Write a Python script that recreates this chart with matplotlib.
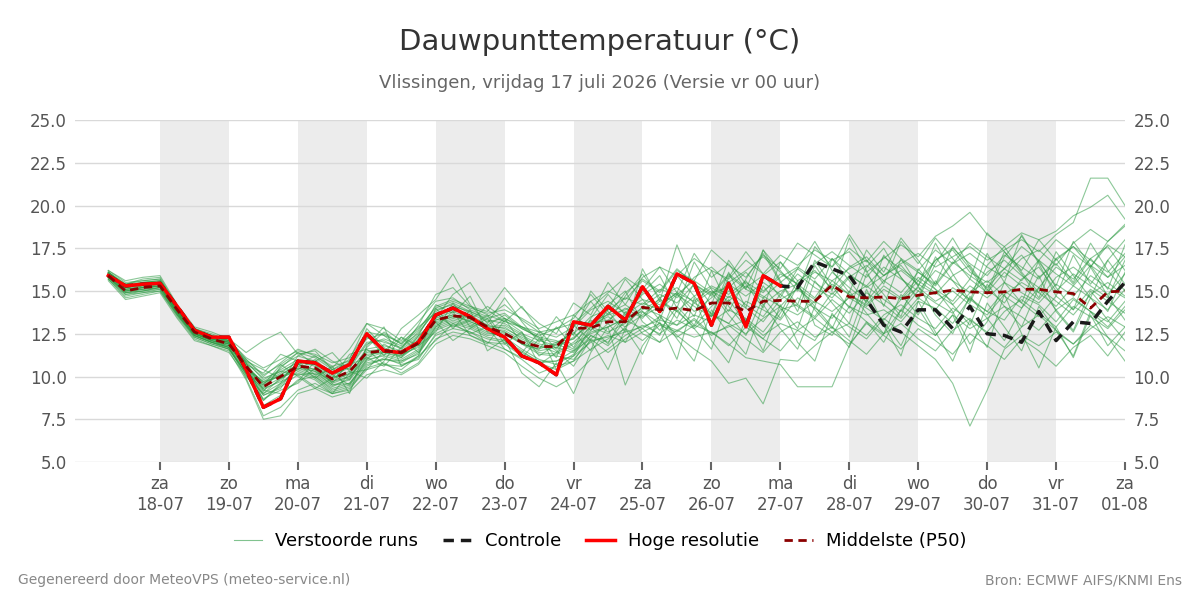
import matplotlib.pyplot as plt

# time in days since 17-07 00h, 6-hourly steps from 17-07 06h to 01-08 00h
times = [0.25 + 0.25 * i for i in range(60)]

tick_days = list(range(1, 16))
tick_labels = ["za\n18-07", "zo\n19-07", "ma\n20-07", "di\n21-07", "wo\n22-07",
               "do\n23-07", "vr\n24-07", "za\n25-07", "zo\n26-07", "ma\n27-07",
               "di\n28-07", "wo\n29-07", "do\n30-07", "vr\n31-07", "za\n01-08"]

# high resolution run (ends 27-07 00h)
hres = [15.9, 15.3, 15.4, 15.45, 14.1, 12.7, 12.3, 12.3, 10.4, 8.2,
        8.7, 10.9, 10.8, 10.2, 10.7, 12.5, 11.5, 11.4, 12.0, 13.6,
        14.0, 13.5, 12.8, 12.3, 11.2, 10.8, 10.1, 13.2, 13.0, 14.1,
        13.3, 15.25, 13.8, 16.0, 15.45, 13.0, 15.45, 12.9, 15.9, 15.3]

control = hres + [15.2, 16.7, 16.3, 15.9, 14.5, 13.0, 12.6, 13.9, 13.9, 12.8,
                  14.1, 12.5, 12.4, 12.0, 13.8, 12.1, 13.2, 13.1, 14.4, 15.5]

p50 = [15.9, 15.0, 15.2, 15.3, 13.9, 12.6, 12.2, 11.9, 10.6, 9.4,
       10.0, 10.6, 10.5, 9.85, 10.3, 11.4, 11.5, 11.4, 11.95, 13.3,
       13.55, 13.45, 12.9, 12.5, 12.0, 11.75, 11.75, 12.8, 12.85, 13.2,
       13.2, 14.05, 13.9, 14.0, 13.85, 14.3, 14.3, 13.8, 14.4, 14.45,
       14.4, 14.4, 15.35, 14.65, 14.6, 14.65, 14.55, 14.75, 14.9, 15.05,
       14.95, 14.9, 14.95, 15.1, 15.1, 14.95, 14.85, 14.0, 14.95, 15.0]

members = [
    [16.1,15.3,15.5,15.6,14.0,12.8,12.4,12.0,10.9,9.8,10.4,11.0,10.8,10.1,10.5,11.9,12.2,11.8,12.5,13.9,14.2,13.7,13.2,13.4,12.9,12.2,12.0,12.5,13.5,13.9,14.6,14.2,15.1,14.8,15.6,14.9,15.2,16.1,15.0,15.8,16.4,15.7,16.9,16.0,15.2,15.9,16.8,16.1,15.3,16.6,17.2,16.4,15.8,16.9,17.4,16.5,17.8,18.6,17.9,18.8],
    [15.8,14.9,15.0,15.2,13.7,12.4,12.0,11.6,10.2,8.9,9.4,10.1,10.2,9.5,9.6,10.8,11.0,10.9,11.3,12.8,13.2,12.9,12.4,12.5,11.9,11.3,11.2,11.0,12.1,12.3,12.6,12.9,13.3,13.0,13.6,13.2,13.9,13.4,12.6,13.9,14.2,13.5,14.9,14.1,13.6,13.9,13.2,14.4,14.0,13.1,14.6,13.8,13.3,14.7,14.2,13.2,14.5,13.8,12.9,14.1],
    [16.0,15.1,15.3,15.4,13.8,12.5,12.1,11.7,9.9,7.7,8.2,9.2,9.6,9.0,9.2,10.6,11.1,10.7,11.0,12.5,13.0,12.6,12.0,11.6,11.0,10.2,10.6,10.9,12.4,11.8,12.9,13.6,14.4,13.8,14.7,15.3,14.8,15.6,14.2,15.0,15.4,14.6,16.1,15.2,14.4,15.6,16.2,15.4,14.8,15.9,16.5,15.1,14.3,15.7,16.4,15.0,16.0,15.3,14.6,16.8],
    [16.2,15.6,15.8,15.9,14.2,12.9,12.6,12.2,11.4,12.1,12.6,11.3,11.5,10.4,11.0,13.1,12.8,12.1,13.2,14.4,14.6,13.9,13.5,14.2,13.3,12.6,12.8,13.4,14.8,13.6,14.9,15.7,15.0,16.3,15.4,14.8,16.0,15.2,15.9,16.7,15.6,16.2,15.1,16.4,17.0,15.9,16.5,15.3,16.8,17.4,16.1,15.5,16.3,17.1,15.8,16.6,15.4,16.9,17.6,16.2],
    [15.7,14.6,14.8,15.0,13.5,12.2,11.8,11.4,10.0,9.0,9.6,10.3,9.9,9.1,9.4,10.5,10.8,10.2,10.8,12.2,12.6,12.4,12.0,11.9,11.2,10.8,10.4,10.9,11.6,12.2,12.8,12.1,13.0,12.6,13.4,12.5,12.9,13.3,12.4,13.1,12.7,12.1,13.6,12.9,12.2,13.4,12.6,11.8,11.0,9.6,7.1,9.2,11.6,12.4,11.8,12.6,11.9,12.8,13.5,12.9],
    [15.9,15.2,15.4,15.5,13.9,12.7,12.3,12.1,10.7,9.6,10.2,10.9,10.6,9.9,10.3,11.6,11.8,11.5,12.2,13.6,14.1,13.8,13.3,13.1,12.5,12.1,11.8,12.2,13.2,13.6,13.9,14.5,14.2,14.9,14.4,15.2,14.6,15.5,14.9,16.0,15.4,16.1,15.6,16.3,16.8,15.9,16.6,17.2,16.4,17.0,17.6,16.8,17.4,18.0,17.3,18.3,19.0,21.6,21.6,20.0],
    [16.0,15.4,15.6,15.7,14.1,12.8,12.5,12.1,10.8,9.2,9.8,10.7,11.2,10.6,10.9,12.2,12.5,11.9,12.7,14.1,14.5,14.1,13.6,13.2,12.9,12.4,12.8,13.1,14.0,14.9,15.8,15.1,16.4,15.9,16.9,16.2,15.7,16.8,16.0,17.1,16.5,17.4,16.8,17.3,16.1,16.9,17.7,17.0,18.2,18.8,19.6,18.3,17.6,18.4,18.0,18.5,19.4,19.9,20.6,19.2],
    [15.8,15.0,15.1,15.2,13.8,12.5,12.1,11.8,10.5,9.4,9.9,10.4,10.0,9.3,9.6,10.9,11.3,11.0,11.6,13.0,13.4,13.1,12.6,12.3,11.6,11.0,10.7,11.3,12.4,12.0,13.3,12.8,13.5,12.4,11.6,10.9,9.6,9.9,8.4,11.0,10.9,11.8,12.6,13.1,12.4,13.6,14.2,13.4,12.8,14.0,13.3,12.6,13.8,14.5,13.7,12.9,14.1,13.5,12.8,13.9],
    [16.1,15.2,15.4,15.5,14.0,12.6,12.2,12.0,10.6,9.5,10.1,10.7,10.4,9.6,10.0,11.1,11.4,11.2,11.8,13.2,13.5,13.2,12.8,12.7,12.1,11.5,11.7,11.4,12.6,12.9,13.4,13.8,13.1,12.7,12.3,12.6,11.9,11.1,10.9,10.7,9.4,9.4,9.4,11.8,13.2,12.5,13.9,13.0,12.4,13.6,12.8,13.4,14.1,13.5,12.7,13.9,14.6,13.8,13.2,14.4],
    [15.6,14.5,14.7,14.9,13.4,12.1,11.8,11.5,9.8,7.5,7.7,9.0,9.3,8.8,9.1,10.1,10.4,10.1,10.7,11.9,12.4,12.2,11.8,11.4,10.6,9.9,9.4,10.0,11.0,11.6,12.4,13.0,12.5,13.3,12.8,13.6,13.1,12.5,13.4,14.1,13.6,14.4,13.8,14.6,14.0,13.3,14.5,15.2,14.4,15.0,14.2,13.6,14.8,15.5,14.9,14.1,15.3,14.6,13.9,15.1],
    [16.0,15.3,15.4,15.5,13.9,12.6,12.3,12.1,10.4,9.1,10.6,11.2,10.9,10.2,10.6,12.0,12.1,11.6,12.3,13.5,13.9,13.6,13.0,13.6,12.8,12.3,12.1,11.6,13.0,13.5,12.9,14.1,14.8,14.3,15.4,14.7,15.9,15.1,14.6,15.5,16.3,15.5,14.8,15.9,15.3,16.4,15.7,15.0,16.2,15.6,14.9,16.1,16.8,15.9,15.2,16.4,15.7,16.9,15.8,16.5],
    [15.9,15.1,15.2,15.4,13.8,12.5,12.2,11.9,10.3,8.6,9.5,10.5,10.3,9.7,10.2,11.4,11.6,11.2,12.0,13.4,13.8,13.4,13.0,12.8,12.3,11.8,11.4,12.0,12.9,12.5,13.6,14.3,13.9,14.8,14.1,13.5,14.7,14.0,13.2,14.5,15.1,14.3,15.6,14.8,14.2,15.3,14.6,15.8,15.1,14.4,15.7,14.9,16.1,15.3,14.5,15.8,16.4,15.6,14.8,16.0],
    [16.1,15.4,15.7,15.8,14.1,12.7,12.4,12.2,11.0,10.1,10.7,11.4,11.1,10.4,10.8,12.3,12.0,11.7,12.6,13.8,14.3,13.8,13.4,13.7,12.9,12.6,12.3,12.9,13.9,14.4,13.7,14.8,15.4,14.6,15.8,16.4,15.5,16.2,17.0,16.1,15.4,16.6,17.3,16.5,15.8,17.0,16.3,15.6,16.8,17.5,16.6,15.9,17.1,16.4,15.7,16.9,17.6,16.8,16.1,17.2],
    [15.8,14.8,14.9,15.1,13.6,12.3,11.9,11.6,10.2,9.3,9.7,10.2,9.8,9.0,9.3,10.4,10.7,10.6,11.1,12.4,12.8,12.6,12.2,12.0,11.4,10.9,10.9,11.2,12.0,12.4,12.0,12.6,13.1,12.3,13.0,12.6,11.8,12.9,12.2,11.5,12.7,13.4,12.6,11.9,13.1,12.4,11.6,12.8,12.1,11.3,12.5,11.8,11.0,12.2,11.5,10.6,11.7,12.4,11.2,12.6],
    [16.0,15.2,15.3,15.4,13.9,12.6,12.2,11.9,10.8,9.9,10.3,10.8,10.7,10.0,10.1,11.5,11.6,11.4,11.9,13.3,13.6,13.4,12.9,13.0,12.4,11.9,11.7,12.3,13.1,13.3,14.0,13.4,14.6,15.2,14.3,15.0,14.4,15.3,14.7,14.1,15.2,14.5,15.4,14.8,14.1,15.1,14.5,15.6,14.9,14.2,15.3,14.6,15.5,14.9,14.3,15.4,14.7,15.9,15.2,14.6],
    [15.7,14.7,14.9,15.0,13.6,12.4,12.0,11.7,10.3,9.0,9.9,10.6,10.3,9.5,9.8,11.0,11.2,10.9,11.5,12.9,13.3,13.0,12.5,12.6,12.0,11.4,11.3,11.9,12.5,12.9,13.4,14.0,13.6,13.0,14.3,13.7,13.1,14.4,13.9,13.3,14.6,14.0,13.4,14.7,15.3,14.5,13.8,15.0,14.3,13.7,14.9,15.6,14.7,14.0,15.2,14.4,13.6,14.8,15.5,14.7],
    [16.2,15.5,15.6,15.7,14.1,12.8,12.4,12.1,11.1,10.5,11.0,11.5,11.3,10.8,11.1,12.6,12.4,12.0,12.8,14.0,14.4,14.0,13.7,13.9,13.4,12.8,13.2,13.6,14.4,15.0,14.5,15.6,14.9,16.2,15.6,17.4,16.5,15.8,17.1,16.3,17.8,17.1,16.4,17.5,16.7,17.9,16.9,16.2,17.4,16.6,17.8,17.0,16.3,17.6,16.8,18.0,17.2,16.4,17.7,17.0],
    [15.9,15.0,15.2,15.3,13.8,12.5,12.1,11.9,10.5,9.7,10.0,10.5,10.1,9.4,9.9,11.2,11.5,11.3,11.7,13.1,13.5,13.3,12.9,12.6,11.9,11.6,12.0,12.2,13.3,12.6,13.1,13.9,14.5,13.8,12.9,14.1,15.0,14.2,13.5,14.8,14.1,13.4,14.5,13.7,14.9,14.2,13.4,14.6,13.9,15.2,14.5,13.8,15.0,14.3,13.5,14.7,13.9,15.1,14.4,13.7],
    [16.0,15.1,15.2,15.3,13.9,12.6,12.2,12.0,10.6,9.6,10.1,10.7,10.4,9.7,10.0,11.3,11.4,11.1,11.9,13.3,13.6,13.2,12.8,12.9,12.2,11.7,11.9,11.5,12.7,13.7,14.2,13.5,14.1,14.9,13.8,14.6,15.4,14.7,15.5,14.8,16.0,15.2,14.6,15.8,16.5,15.6,14.9,16.1,15.4,16.7,15.9,15.2,16.3,15.6,16.8,16.0,15.3,16.5,15.8,17.0],
    [15.8,14.9,15.0,15.2,13.7,12.4,12.0,11.7,10.1,8.3,8.9,9.8,10.0,9.2,9.5,10.7,11.0,10.8,11.4,12.7,13.1,12.8,12.3,12.1,11.5,10.8,10.9,11.5,12.2,11.4,12.2,12.8,12.0,12.7,13.3,12.4,13.0,12.2,11.4,12.6,13.2,12.3,12.9,12.1,11.3,12.5,13.1,12.2,11.5,12.7,13.4,12.5,11.7,12.9,13.6,12.7,11.9,13.0,12.3,11.5],
    [16.0,15.2,15.3,15.4,13.9,12.5,12.1,11.8,10.6,9.3,10.5,11.4,10.7,9.6,10.9,12.4,11.2,12.8,13.6,14.5,16.0,14.2,13.1,14.6,13.2,12.0,13.5,12.4,15.0,13.8,12.6,16.3,14.4,17.7,15.2,13.6,16.1,14.0,17.4,15.6,13.8,16.5,15.0,18.1,16.2,14.1,16.9,15.3,17.8,16.0,14.4,17.2,15.5,18.3,16.6,14.7,17.1,15.4,16.8,18.0],
    [15.8,15.0,15.1,15.3,13.7,12.4,12.0,11.8,10.4,8.9,9.3,10.8,9.9,10.6,9.0,11.8,12.9,10.6,11.2,14.0,12.8,13.9,11.5,12.2,10.2,9.4,10.8,9.0,11.4,12.9,9.5,11.8,13.2,11.0,14.6,12.1,10.8,13.4,11.5,14.2,12.0,10.9,13.7,12.3,15.1,13.0,11.2,14.4,12.6,10.9,13.3,11.7,14.8,12.5,10.5,12.9,11.1,13.6,11.8,12.9],
    [16.1,15.4,15.5,15.6,14.1,12.8,12.3,12.0,11.0,10.0,10.8,11.6,11.2,10.5,11.6,13.1,12.4,11.6,13.0,14.8,15.2,14.1,13.8,15.2,14.0,13.1,12.5,14.3,13.6,15.5,14.2,15.8,16.4,14.9,17.2,15.8,16.6,15.1,17.4,16.2,15.0,17.6,16.4,18.3,16.8,15.4,17.9,16.6,18.1,16.9,15.7,18.4,17.3,16.2,18.0,16.8,17.6,16.4,17.9,18.9],
    [15.9,15.1,15.2,15.3,13.8,12.5,12.1,11.9,10.5,9.7,10.3,10.1,9.4,9.0,10.2,10.4,11.5,12.3,11.8,12.6,14.3,12.9,13.6,12.1,11.4,12.6,10.4,11.2,12.9,11.9,13.8,12.5,12.0,13.9,12.8,11.6,14.5,13.1,12.2,13.7,15.6,13.0,12.4,14.1,13.2,12.0,13.9,15.3,13.6,12.5,14.7,13.4,12.1,14.0,15.9,13.8,12.6,14.6,13.3,12.1],
    [15.7,14.8,15.0,15.1,13.6,12.3,11.9,11.6,10.1,8.7,9.2,9.6,10.5,9.8,10.7,11.1,10.6,11.7,12.4,13.2,12.1,12.8,13.4,11.9,12.6,11.2,11.9,12.6,11.5,14.2,15.0,13.2,12.4,14.8,13.5,16.2,14.1,12.9,15.3,14.0,12.8,15.6,14.3,13.1,16.0,14.8,13.5,16.3,15.1,13.8,11.9,13.2,15.5,14.3,16.8,15.2,13.9,16.4,14.7,13.3],
    [16.0,15.3,15.5,15.6,14.0,12.6,12.2,12.0,10.9,10.4,9.9,10.4,11.0,10.1,9.5,11.0,11.9,11.3,12.1,13.4,14.8,15.5,13.9,13.2,14.1,12.7,11.6,12.9,14.4,13.1,14.7,16.0,14.6,13.4,15.5,14.2,16.8,15.4,14.0,16.7,15.3,14.1,16.9,15.6,14.3,17.1,15.8,14.5,16.6,18.1,16.4,15.0,17.3,16.0,14.6,16.9,15.5,17.8,16.2,15.0],
    [15.9,15.0,15.2,15.3,13.8,12.5,12.2,11.9,10.4,9.2,9.0,9.7,10.9,11.4,10.3,9.9,10.9,12.3,11.4,12.9,13.8,12.4,11.9,13.3,12.6,10.7,11.4,13.0,12.1,10.4,12.8,11.3,13.6,12.2,10.9,13.9,12.5,11.3,14.2,12.8,11.6,14.1,12.9,11.7,14.5,13.2,11.8,14.0,12.4,13.6,11.4,14.3,12.9,11.5,14.1,12.7,11.2,13.8,12.3,10.9],
    [16.1,15.3,15.4,15.5,14.0,12.7,12.3,12.1,10.8,8.6,9.6,11.2,11.6,10.9,10.4,12.8,11.7,11.1,12.4,14.2,13.7,14.7,12.6,13.4,11.9,11.6,12.9,11.7,13.4,14.8,13.6,14.9,15.9,14.0,16.7,15.1,13.8,15.7,17.2,15.5,14.2,16.8,15.3,14.0,16.4,17.5,15.8,14.6,17.0,15.6,14.3,16.5,17.6,16.1,14.9,17.3,15.9,14.6,16.8,15.4],
    [15.8,14.9,15.1,15.2,13.7,12.4,12.0,11.7,10.2,9.5,10.7,10.0,9.3,9.9,11.3,11.6,10.7,10.4,11.2,12.1,13.1,12.5,12.9,11.6,11.1,12.2,11.5,10.6,12.2,13.1,12.0,13.8,12.7,14.1,13.0,14.9,13.6,12.4,14.6,13.4,15.3,13.9,12.8,15.0,13.7,12.5,14.8,13.6,15.6,14.2,13.0,15.4,14.1,12.9,15.2,13.9,12.7,15.0,13.8,16.1],
    [16.0,15.2,15.4,15.5,13.9,12.6,12.2,12.0,10.7,10.2,11.3,10.9,10.1,10.4,9.8,11.7,12.6,11.9,12.9,13.7,12.9,13.3,14.1,13.4,12.8,12.3,11.1,13.6,12.7,13.9,15.7,14.5,13.3,15.9,14.7,13.5,15.8,17.3,16.0,14.6,16.3,17.9,16.2,14.9,17.4,16.1,18.1,16.8,15.4,17.6,16.3,14.8,17.0,18.2,16.7,15.3,17.9,16.5,15.1,17.7],
]

fig = plt.figure(figsize=(12, 6), dpi=100)
ax = fig.add_axes([0.0625, 0.23, 0.875, 0.57])

# alternating day shading
for d in range(1, 15, 2):
    ax.axvspan(d, d + 1, color="#ececec", lw=0, zorder=0)

for k, m in enumerate(members):
    ax.plot(times, m, color="#2e9b44", lw=0.8, alpha=0.55, zorder=2,
            label="Verstoorde runs" if k == 0 else None)

ax.plot(times, control, color="#1a1a1a", lw=2.5, ls=(0, (3, 2)), zorder=3, label="Controle")
ax.plot(times[:len(hres)], hres, color="#ff0000", lw=2.5, zorder=4, label="Hoge resolutie")
ax.plot(times, p50, color="#8b0000", lw=2, ls=(0, (3, 2)), zorder=5, label="Middelste (P50)")

ax.set_xlim(-0.233, 15)
ax.set_ylim(5, 25)
ax.set_yticks([5, 7.5, 10, 12.5, 15, 17.5, 20, 22.5, 25])
ax.set_yticklabels(["5.0", "7.5", "10.0", "12.5", "15.0", "17.5", "20.0", "22.5", "25.0"])
ax.set_xticks(tick_days)
ax.set_xticklabels(tick_labels)
ax.grid(axis="y", color="#d9d9d9", lw=1)
ax.set_axisbelow(True)
for s in ax.spines.values():
    s.set_visible(False)
ax.tick_params(axis="x", colors="#666666", labelsize=12, length=6, width=1.5, labelcolor="#555555")
ax.tick_params(axis="y", length=0, labelsize=12, labelcolor="#555555",
               labelleft=True, labelright=True, pad=6)

fig.text(0.5, 0.93, "Dauwpunttemperatuur (°C)", ha="center", va="center", fontsize=21, color="#333333")
fig.text(0.5, 0.862, "Vlissingen, vrijdag 17 juli 2026 (Versie vr 00 uur)", ha="center", va="center",
         fontsize=13, color="#666666")

leg = fig.legend(loc="center", bbox_to_anchor=(0.5, 0.098), ncol=4, frameon=False, fontsize=13,
                 handlelength=1.6, columnspacing=1.4, handletextpad=0.7)
for h in leg.get_lines():
    if h.get_label() == "Verstoorde runs":
        h.set_alpha(0.6)
        h.set_linewidth(0.8)

fig.text(0.015, 0.033, "Gegenereerd door MeteoVPS (meteo-service.nl)", ha="left", va="center",
         fontsize=10, color="#888888")
fig.text(0.985, 0.033, "Bron: ECMWF AIFS/KNMI Ens", ha="right", va="center", fontsize=10, color="#888888")

fig.savefig("out.png", dpi=100)
